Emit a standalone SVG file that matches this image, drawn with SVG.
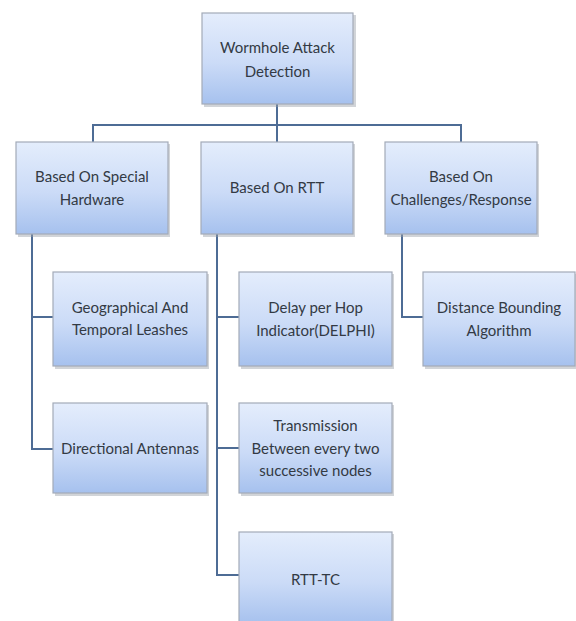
<svg xmlns="http://www.w3.org/2000/svg" width="576" height="621" viewBox="0 0 576 621">
<defs>
<linearGradient id="g" x1="0" y1="0" x2="0" y2="1">
<stop offset="0" stop-color="#e4edfc"/>
<stop offset="0.55" stop-color="#cbdbf7"/>
<stop offset="1" stop-color="#a6c1ee"/>
</linearGradient>
</defs>
<style>
.sh{fill:#9a9fa8;opacity:0.45}
.bx{fill:url(#g);stroke:#a3abb8;stroke-width:1.2}
.t{font-family:Lato,"Liberation Sans",sans-serif;font-size:15px;fill:#333a44;text-anchor:middle}
.c{fill:none;stroke:#4e6c95;stroke-width:2}
</style>
<rect width="576" height="621" fill="#ffffff"/>
<g id="connectors">
<path class="c" d="M277 104V125M93 142V125H461V142M277 125V142"/>
<path class="c" d="M32 234V449H53M32 317H53"/>
<path class="c" d="M217 234V575H239M217 317H239M217 448H239"/>
<path class="c" d="M402 234V317H423"/>
</g>
<g id="n-root">
<rect class="sh" x="204" y="15" width="152" height="92"/>
<rect class="bx" x="202" y="13" width="151" height="91"/>
<text class="t" x="277.5" y="53">Wormhole Attack</text>
<text class="t" x="277.5" y="77">Detection</text>
</g>
<g id="n-hw">
<rect class="sh" x="18" y="144" width="152" height="93"/>
<rect class="bx" x="16" y="142" width="152" height="92"/>
<text class="t" x="92" y="182">Based On Special</text>
<text class="t" x="92" y="205">Hardware</text>
</g>
<g id="n-rtt">
<rect class="sh" x="203" y="144" width="152" height="93"/>
<rect class="bx" x="201" y="142" width="152" height="92"/>
<text class="t" x="277" y="193">Based On RTT</text>
</g>
<g id="n-cr">
<rect class="sh" x="387" y="144" width="152" height="93"/>
<rect class="bx" x="385" y="142" width="152" height="92"/>
<text class="t" x="461" y="182">Based On</text>
<text class="t" x="461" y="205">Challenges/Response</text>
</g>
<g id="n-geo">
<rect class="sh" x="55" y="274" width="154" height="95"/>
<rect class="bx" x="53" y="272" width="154" height="94"/>
<text class="t" x="130" y="313">Geographical  And</text>
<text class="t" x="130" y="335">Temporal Leashes</text>
</g>
<g id="n-dir">
<rect class="sh" x="55" y="405" width="154" height="91"/>
<rect class="bx" x="53" y="403" width="154" height="90"/>
<text class="t" x="130" y="454">Directional Antennas</text>
</g>
<g id="n-delphi">
<rect class="sh" x="241" y="274" width="153" height="95"/>
<rect class="bx" x="239" y="272" width="153" height="94"/>
<text class="t" x="315.5" y="313">Delay per Hop</text>
<text class="t" x="315.5" y="336">Indicator(DELPHI)</text>
</g>
<g id="n-trans">
<rect class="sh" x="241" y="405" width="153" height="91"/>
<rect class="bx" x="239" y="403" width="153" height="90"/>
<text class="t" x="315.5" y="431">Transmission</text>
<text class="t" x="315.5" y="454">Between every two</text>
<text class="t" x="315.5" y="476">successive  nodes</text>
</g>
<g id="n-rtttc">
<rect class="sh" x="241" y="534" width="153" height="93"/>
<rect class="bx" x="239" y="532" width="153" height="92"/>
<text class="t" x="315.5" y="585">RTT-TC</text>
</g>
<g id="n-dist">
<rect class="sh" x="425" y="274" width="153" height="95"/>
<rect class="bx" x="423" y="272" width="152" height="94"/>
<text class="t" x="499" y="313">Distance Bounding</text>
<text class="t" x="499" y="336">Algorithm</text>
</g>
</svg>
